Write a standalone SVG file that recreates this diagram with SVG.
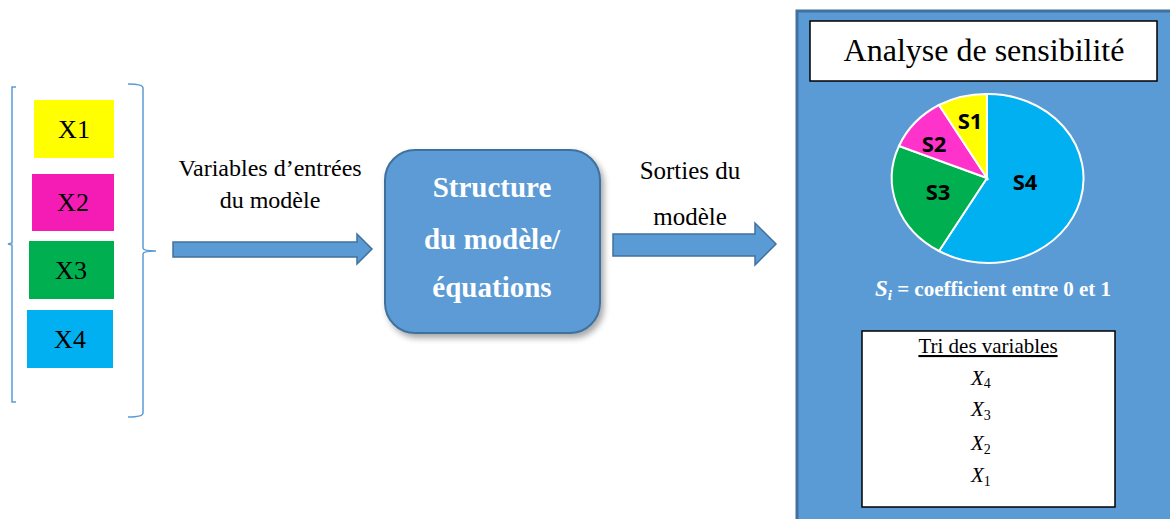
<svg xmlns="http://www.w3.org/2000/svg" width="1170" height="519" viewBox="0 0 1170 519">
<defs>
<style>
.t{font-family:"Liberation Serif","Times New Roman",serif;fill:#000}
.brace{fill:none;stroke:#5B9BD5;stroke-width:1.5}
.arrow{fill:#5B9BD5;stroke:#41719C;stroke-width:1.5}
.slice{stroke:#fff;stroke-width:2}
.pl{font-family:"Open Sans","Noto Sans",sans-serif;font-weight:bold;font-size:22px;fill:#000}
.m{font-family:"Liberation Serif",serif;font-style:italic;font-size:21px}
.w{font-family:"Liberation Serif","Times New Roman",serif;font-weight:bold;fill:#fff}
</style>
<filter id="sh" x="-10%" y="-10%" width="130%" height="130%">
<feDropShadow dx="3" dy="4" stdDeviation="3" flood-color="#000" flood-opacity="0.35"/>
</filter>
</defs>
<rect width="1170" height="519" fill="#fff"/>

<g id="brackets">
<path class="brace" d="M16,87 H12 V243 L8,244 L12,245 V402 H16"/>
<path class="brace" d="M128,84 Q143,84 143,88 V248 Q143,251 156,251 Q143,251 143,254 V413 Q143,417 128,417"/>
</g>

<g id="x1"><rect x="34" y="100" width="80" height="58" fill="#FFFF00"/><text class="t" x="74" y="138" font-size="26" text-anchor="middle">X1</text></g>
<g id="x2"><rect x="32" y="174" width="82" height="57" fill="#F41CB5"/><text class="t" x="73" y="211" font-size="26" text-anchor="middle">X2</text></g>
<g id="x3"><rect x="29" y="241" width="85" height="58" fill="#00B050"/><text class="t" x="71" y="279" font-size="26" text-anchor="middle">X3</text></g>
<g id="x4"><rect x="27" y="310" width="86" height="58" fill="#00B0F0"/><text class="t" x="70" y="348" font-size="26" text-anchor="middle">X4</text></g>

<g id="label-inputs">
<text class="t" x="270" y="176" font-size="24" text-anchor="middle">Variables d’entrées</text>
<text class="t" x="270" y="208" font-size="24" text-anchor="middle">du modèle</text>
</g>

<g id="connectors">
<path class="arrow" d="M173,242 H357 V234 L372,249 L357,264 V257 H173 Z"/>
<path class="arrow" d="M613,234 H755 V223 L776,244 L755,265 V256 H613 Z"/>
</g>

<g id="structure">
<rect x="385" y="150" width="215" height="183" rx="30" ry="30" fill="#5B9BD5" stroke="#41719C" stroke-width="2" filter="url(#sh)"/>
<text class="w" x="492" y="197" font-size="29" text-anchor="middle">Structure</text>
<text class="w" x="492" y="249" font-size="29" text-anchor="middle">du modèle/</text>
<text class="w" x="492" y="297" font-size="29" text-anchor="middle">équations</text>
</g>

<g id="label-outputs">
<text class="t" x="690" y="179" font-size="25" text-anchor="middle">Sorties du</text>
<text class="t" x="690" y="225" font-size="25" text-anchor="middle">modèle</text>
</g>

<g id="analysis">
<rect x="797" y="11" width="380" height="520" fill="#5B9BD5" stroke="#41719C" stroke-width="3"/>
<g id="title">
<rect x="810" y="21" width="347" height="60" fill="#fff" stroke="#000" stroke-width="1.5"/>
<text class="t" x="984" y="61" font-size="32" text-anchor="middle">Analyse de sensibilité</text>
</g>
<g id="pie">
<path class="slice" fill="#00B0F0" d="M987,178 L987,94 A95.5,84.5 0 1,1 939,251 Z"/>
<path class="slice" fill="#00B050" d="M987,178 L939,251 A95.5,84.5 0 0,1 899,146 Z"/>
<path class="slice" fill="#FF33CC" d="M987,178 L899,146 A95.5,84.5 0 0,1 939,105 Z"/>
<path class="slice" fill="#FFFF00" d="M987,178 L939,105 A95.5,84.5 0 0,1 987,94 Z"/>
<text class="pl" x="970" y="129" text-anchor="middle">S1</text>
<text class="pl" x="934" y="152" text-anchor="middle">S2</text>
<text class="pl" x="938" y="200" text-anchor="middle">S3</text>
<text class="pl" x="1025" y="190" text-anchor="middle">S4</text>
</g>
<text class="w" x="993" y="296" font-size="21" text-anchor="middle"><tspan font-style="italic" font-size="23">S</tspan><tspan font-style="italic" font-size="15" dy="4">i</tspan><tspan dy="-4"> = coefficient entre 0 et 1</tspan></text>
<g id="ranking">
<rect x="862" y="331" width="253" height="176" fill="#fff" stroke="#000" stroke-width="1.5"/>
<text class="t" x="988" y="353" font-size="21" text-anchor="middle" text-decoration="underline">Tri des variables</text>
<text class="t m" x="971" y="385">X<tspan font-size="14" font-style="normal" dy="3">4</tspan></text>
<text class="t m" x="971" y="416">X<tspan font-size="14" font-style="normal" dy="4">3</tspan></text>
<text class="t m" x="971" y="450">X<tspan font-size="14" font-style="normal" dy="4">2</tspan></text>
<text class="t m" x="971" y="482">X<tspan font-size="14" font-style="normal" dy="4">1</tspan></text>
</g>
</g>
</svg>
